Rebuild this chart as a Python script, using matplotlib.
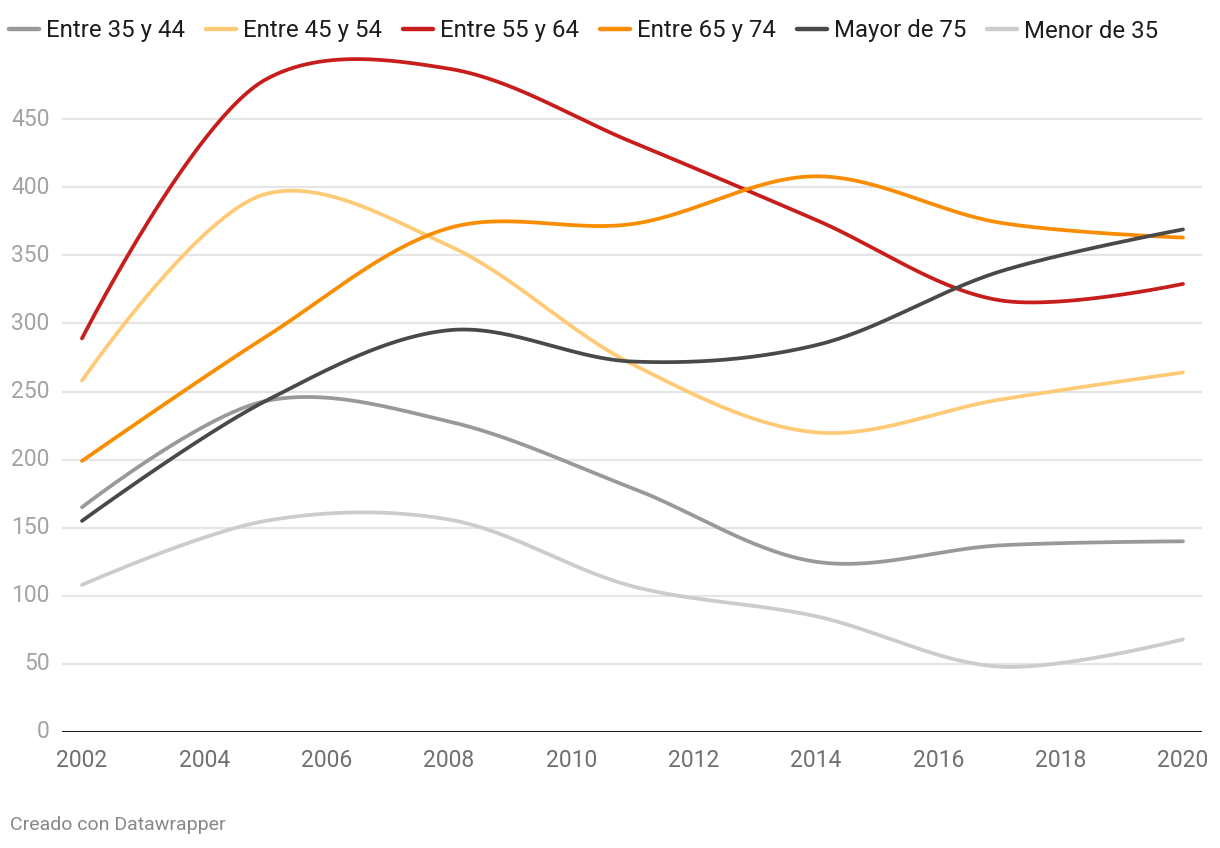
import numpy as np
import matplotlib
matplotlib.use("Agg")
import matplotlib.pyplot as plt
from matplotlib.lines import Line2D

# ---- data ----
years = [2002, 2005, 2008, 2011, 2014, 2017, 2020]
series_names = ["Entre 35 y 44", "Entre 45 y 54", "Entre 55 y 64",
                "Entre 65 y 74", "Mayor de 75", "Menor de 35"]
entre_35_44 = [165, 243, 228, 179, 125, 137, 140]
entre_45_54 = [258, 395, 357, 270, 220, 244, 264]
entre_55_64 = [289, 479, 487, 433, 376, 317, 329]
entre_65_74 = [199, 290, 370, 373, 408, 374, 363]
mayor_75 = [155, 243, 295, 272, 284, 338, 369]
menor_35 = [108, 155, 156, 107, 85, 48, 68]
values = [entre_35_44, entre_45_54, entre_55_64, entre_65_74, mayor_75, menor_35]
colors = ["#999999", "#ffca76", "#c71e1d", "#fa8c00", "#494949", "#cccccc"]
y_ticks = [0, 50, 100, 150, 200, 250, 300, 350, 400, 450]
x_ticks = [2002, 2004, 2006, 2008, 2010, 2012, 2014, 2016, 2018, 2020]

plt.rcParams['font.family'] = ['Roboto', 'DejaVu Sans']

W, H = 1220, 848
fig = plt.figure(figsize=(W / 100, H / 100), dpi=100)
ax = fig.add_axes([62 / W, 1 - 732 / H, (1202 - 62) / W, (732 - 51) / H])
ax.set_xlim(2002 - 20 / 61.17, 2020 + 19 / 61.17)
ax.set_ylim(0, 500)


def catmull_rom(xs, ys, sx, sy, alpha=0.5, n=60):
    """Centripetal Catmull-Rom (d3.curveCatmullRom) computed in pixel space."""
    P = np.column_stack([np.asarray(xs, float) * sx, np.asarray(ys, float) * sy])
    out = [P[0]]
    m = len(P)
    eps = 1e-12
    for i in range(m - 1):
        p0 = P[i - 1] if i > 0 else P[i]
        p1, p2 = P[i], P[i + 1]
        p3 = P[i + 2] if i + 2 < m else P[i + 1]
        l01 = np.linalg.norm(p1 - p0)
        l12 = np.linalg.norm(p2 - p1)
        l23 = np.linalg.norm(p3 - p2)
        l01a, l12a, l23a = l01 ** alpha, l12 ** alpha, l23 ** alpha
        l01_2a, l12_2a, l23_2a = l01 ** (2 * alpha), l12 ** (2 * alpha), l23 ** (2 * alpha)
        c1 = p1.copy()
        c2 = p2.copy()
        if l01a > eps:
            a = 2 * l01_2a + 3 * l01a * l12a + l12_2a
            nn = 3 * l01a * (l01a + l12a)
            c1 = (p1 * a - p0 * l12_2a + p2 * l01_2a) / nn
        if l23a > eps:
            b = 2 * l23_2a + 3 * l23a * l12a + l12_2a
            mm = 3 * l23a * (l23a + l12a)
            c2 = (p2 * b + p1 * l23_2a - p3 * l12_2a) / mm
        t = np.linspace(0, 1, n)[1:, None]
        seg = ((1 - t) ** 3) * p1 + 3 * ((1 - t) ** 2) * t * c1 + 3 * (1 - t) * t ** 2 * c2 + t ** 3 * p2
        out.extend(seg)
    out = np.array(out)
    return out[:, 0] / sx, out[:, 1] / sy


# gridlines
for yt in y_ticks[1:]:
    ax.axhline(yt, color="#e5e5e5", lw=1.6, zorder=0)
ax.axhline(0, color="#1d1d1d", lw=2.2, zorder=3)

for name, vals, col in zip(series_names, values, colors):
    cx, cy = catmull_rom(years, vals, 61.17, 1.362)
    ax.plot(cx, cy, color=col, lw=2.7, solid_capstyle="round", zorder=2, label=name)

for s in ax.spines.values():
    s.set_visible(False)
ax.set_yticks(y_ticks)
ax.set_yticklabels([str(v) for v in y_ticks])
ax.set_xticks(x_ticks)
ax.set_xticklabels([str(v) for v in x_ticks])
ax.tick_params(axis="y", length=0, pad=9, labelsize=16.5, labelcolor="#a3a3a3")
ax.tick_params(axis="x", length=0, pad=12, labelsize=16.5, labelcolor="#707070")
for lbl in ax.get_yticklabels():
    lbl.set_verticalalignment("center")

# legend
handles = [Line2D([0], [0], color=c, lw=3.2, solid_capstyle="round") for c in colors]
fig.legend(handles, series_names, loc="center left", bbox_to_anchor=(9 / W, 1 - 31 / H),
           ncol=6, frameon=False, fontsize=17.3, handlelength=1.25, handletextpad=0.3,
           columnspacing=0.86, borderaxespad=0, borderpad=0, labelcolor="#1d1d1d")

fig.text(10 / W, 1 - 825 / H, "Creado con Datawrapper", fontsize=14, color="#888888",
         ha="left", va="center")

fig.savefig("out.png", dpi=100, facecolor="white")
